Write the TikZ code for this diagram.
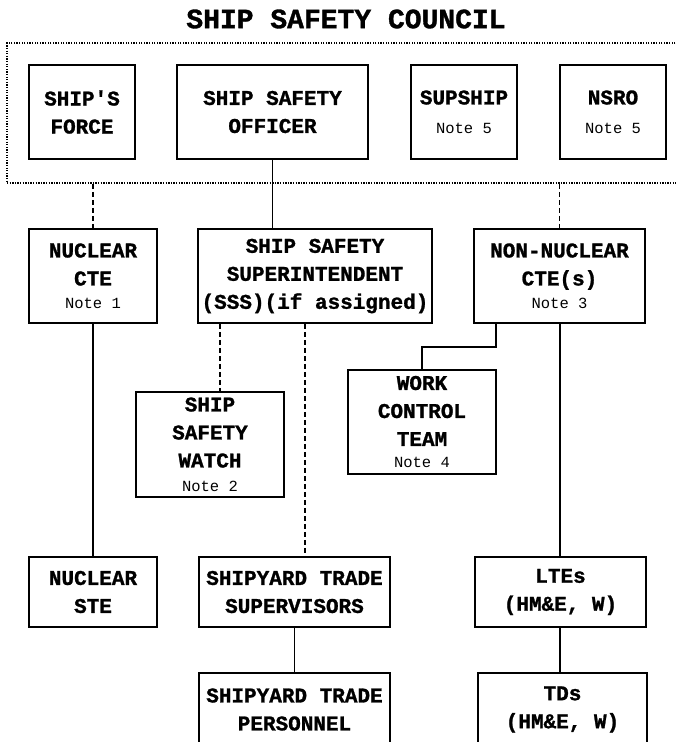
\documentclass[tikz,border=0pt]{standalone}
\usepackage{fontspec}
\setmainfont[BoldFeatures={FakeBold=1.2}]{Liberation Mono}
\newcommand\boxfnt{\fontsize{21}{28}\selectfont\bfseries}
\newcommand\notetxt[1]{{\fontsize{15.5}{18}\selectfont\mdseries #1}}
\begin{document}
\begin{tikzpicture}[x=1pt,y=-1pt,
  box/.style={draw, line width=1.9pt, inner sep=0pt, align=center, font=\boxfnt},
  councilbox/.style={draw, line width=1.5pt, dash pattern=on 1.3pt off 1.3pt, inner sep=0pt},
  solidline/.style={line width=1.7pt},
  dashline/.style={line width=1.7pt, dash pattern=on 5pt off 3pt},
]
\useasboundingbox (0,0) rectangle (676,742);

\node[font=\fontsize{28}{30}\selectfont\bfseries] (title) at (346,19) {SHIP SAFETY COUNCIL};
\node[councilbox, minimum width=675, minimum height=140] (council) at (344.5,113) {};

% row 1
\node[box, minimum width=106, minimum height=94] (sf) at (82,112) {SHIP\textquotesingle S\\FORCE};
\node[box, minimum width=191, minimum height=94] (sso) at (272.5,112) {SHIP SAFETY\\OFFICER};
\node[box, minimum width=106, minimum height=94] (sup) at (464,112) {SUPSHIP\\[1pt]\notetxt{Note 5}};
\node[box, minimum width=106, minimum height=94] (nsro) at (613,112) {NSRO\\[1pt]\notetxt{Note 5}};

% row 2
\node[box, minimum width=128, minimum height=94] (ncte) at (93,276) {NUCLEAR\\CTE\\[-5pt]\notetxt{Note 1}};
\node[box, minimum width=234, minimum height=94] (sss) at (315,276) {SHIP SAFETY\\SUPERINTENDENT\\(SSS)(if assigned)};
\node[box, minimum width=171, minimum height=94] (nn) at (559.5,276) {NON-NUCLEAR\\CTE(s)\\[-5pt]\notetxt{Note 3}};

% middle
\node[box, minimum width=148, minimum height=105] (ssw) at (210,444.5) {SHIP\\SAFETY\\WATCH\\[-4pt]\notetxt{Note 2}};
\node[box, minimum width=148, minimum height=104] (wct) at (422,422) {WORK\\CONTROL\\TEAM\\[-6pt]\notetxt{Note 4}};

% row 3
\node[box, minimum width=128, minimum height=70] (nste) at (93,592) {NUCLEAR\\STE};
\node[box, minimum width=191, minimum height=70] (sts) at (294.5,592) {SHIPYARD TRADE\\SUPERVISORS};
\node[box, minimum width=171, minimum height=70] (lte) at (560.5,592) {LTEs\\(HM\&E, W)};

% row 4
\node[box, minimum width=191, minimum height=73] (stp) at (294.5,709.5) {SHIPYARD TRADE\\PERSONNEL};
\node[box, minimum width=169, minimum height=73] (tds) at (562.5,709.5) {TDs\\(HM\&E, W)};

% connectors
\coordinate (xa) at (220,0);
\coordinate (xb) at (305,0);
\coordinate (xc) at (496,0);
\coordinate (ya) at (0,347);
\coordinate (xd) at (560,0);

\draw[dashline] (council.south -| ncte.north) -- (ncte.north);
\draw[solidline] (sso.south) -- (sso.south |- sss.north);
\draw[dashline] (council.south -| nn.north) -- (nn.north);
\draw[solidline] (ncte.south) -- (nste.north);
\draw[dashline] (sss.south -| xa) -- (ssw.north -| xa);
\draw[dashline] (sss.south -| xb) -- (sts.north -| xb);
\draw[solidline] (sts.south) -- (stp.north);
\draw[solidline] (nn.south -| xc) |- (wct.north |- ya) -- (wct.north);
\draw[solidline] (nn.south -| xd) -- (lte.north -| xd);
\draw[solidline] (lte.south -| xd) -- (tds.north -| xd);
\end{tikzpicture}
\end{document}
